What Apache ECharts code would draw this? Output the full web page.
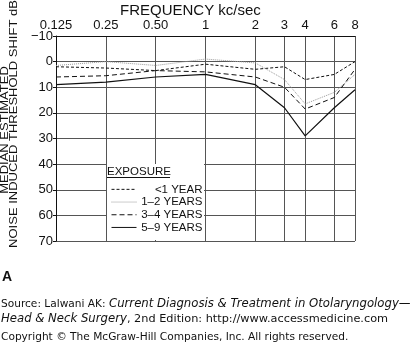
<!DOCTYPE html>
<html>
<head>
<meta charset="utf-8">
<style>
  html, body { margin: 0; padding: 0; background: #fff; }
  #chart { width: 412px; height: 342px; }
</style>
<script src="https://cdn.jsdelivr.net/npm/echarts@6/dist/echarts.min.js"></script>
</head>
<body>
<div id="chart"></div>
<script>
// Frequencies (kc/sec) of the audiogram columns
const frequencies = [0.125, 0.25, 0.5, 1, 2, 3, 4, 6, 8];
const freqLabels = ['0.125', '0.25', '0.50', '1', '2', '3', '4', '6', '8'];
// Median estimated noise-induced threshold shift (dB) by exposure duration
const lessThan1Year = [2, 2.5, 3.5, 1, 3, 2, 7, 5, 0];
const years1to2 = [1.5, 0, 1.5, -1, 0.5, 7, 16.5, 12, 5];
const years3to4 = [6, 5.5, 3.5, 4, 6, 10, 18.5, 14, 3];
const years5to9 = [9, 8, 6, 5, 9, 18, 29, 18, 11];
const seriesNames = ['<1 YEAR', '1\u20132 YEARS', '3\u20134 YEARS', '5\u20139 YEARS'];

const FONT = '"Liberation Sans", Arial, sans-serif';
const NOTE_FONT = '"DejaVu Sans", Verdana, sans-serif';

function pairs(vals) {
  return frequencies.map((f, i) => [f, vals[i]]);
}

const chart = echarts.init(document.getElementById('chart'), null, { renderer: 'canvas' });

const lineStyles = [
  { color: '#111', width: 1, type: [3, 2] },
  { color: '#999', width: 1, type: [1, 1] },
  { color: '#111', width: 1, type: [5, 3] },
  { color: '#111', width: 1.2, type: 'solid' }
];
const seriesData = [lessThan1Year, years1to2, years3to4, years5to9];

chart.setOption({
  animation: false,
  backgroundColor: '#fff',
  title: {
    text: 'FREQUENCY kc/sec',
    left: 115, top: -2,
    textStyle: { fontFamily: FONT, fontSize: 15, fontWeight: 'normal', color: '#111' }
  },
  grid: { left: 56, right: 57, top: 36, bottom: 101 },
  xAxis: {
    type: 'log',
    logBase: 2,
    min: 0.125,
    max: 8,
    position: 'top',
    axisLine: { show: true, onZero: false, lineStyle: { color: '#111', width: 1 } },
    axisTick: { show: false, customValues: frequencies },
    axisLabel: {
      customValues: frequencies,
      formatter: v => freqLabels[frequencies.indexOf(v)] ?? '',
      fontFamily: FONT, fontSize: 13, color: '#111', margin: 4
    },
    splitLine: { show: true, lineStyle: { color: '#555', width: 1 } }
  },
  yAxis: {
    type: 'value',
    inverse: true,
    min: -10,
    max: 70,
    interval: 10,
    axisLine: { show: true, lineStyle: { color: '#111', width: 1 } },
    axisTick: { show: true, length: 3, lineStyle: { color: '#111' } },
    axisLabel: {
      formatter: v => (v < 0 ? '\u2212' + Math.abs(v) : String(v)),
      fontFamily: FONT, fontSize: 13, color: '#111', margin: 3
    },
    splitLine: { show: true, lineStyle: { color: '#555', width: 1 } }
  },
  legend: {
    orient: 'vertical',
    left: 111, top: 183,
    padding: 0,
    itemWidth: 25, itemHeight: 8, itemGap: 0,
    z: 20,
    data: seriesNames,
    itemStyle: { opacity: 0 },
    lineStyle: { width: 1 },
    formatter: name => '{t|' + name + '}',
    textStyle: {
      fontFamily: FONT, fontSize: 11.5, color: '#111',
      lineHeight: 12.7,
      rich: {
        t: { width: 61, align: 'right', fontFamily: FONT, fontSize: 11.5, color: '#111', lineHeight: 12.7 }
      }
    }
  },
  graphic: [
    {
      type: 'rect', z: 3,
      shape: { x: 107, y: 164, width: 97, height: 76 },
      style: { fill: '#fff' }
    },
    {
      type: 'text', z: 11, x: 107, y: 171.5,
      style: { text: 'EXPOSURE', font: '11.5px ' + FONT, fill: '#111', verticalAlign: 'middle' }
    },
    {
      type: 'line', z: 11,
      shape: { x1: 107, y1: 177.5, x2: 170, y2: 177.5 },
      style: { stroke: '#111', lineWidth: 1 }
    },
    {
      type: 'text', z: 11, x: 5.5, y: 130, rotation: Math.PI / 2, scaleY: 0.82,
      style: {
        text: 'MEDIAN ESTIMATED', font: '13px ' + FONT, fill: '#111',
        align: 'center', verticalAlign: 'middle'
      }
    },
    {
      type: 'text', z: 11, x: 14.5, y: 124, rotation: Math.PI / 2, scaleY: 0.82,
      style: {
        text: 'NOISE INDUCED THRESHOLD SHIFT dB', font: '13px ' + FONT, fill: '#111',
        align: 'center', verticalAlign: 'middle'
      }
    },
    {
      type: 'text', x: 2, y: 277,
      style: { text: 'A', font: 'bold 14px ' + FONT, fill: '#111', verticalAlign: 'middle' }
    },
    {
      type: 'text', x: 1, y: 304,
      style: {
        text: 'Source: Lalwani AK: {i|Current Diagnosis & Treatment in Otolaryngology\u2014}',
        font: '10.6px ' + NOTE_FONT, fill: '#111', verticalAlign: 'middle',
        rich: { i: { font: 'italic 11.7px ' + NOTE_FONT } }
      }
    },
    {
      type: 'text', x: 1, y: 319,
      style: {
        text: '{i|Head & Neck Surgery}, 2nd Edition: http://www.accessmedicine.com',
        font: '11.3px ' + NOTE_FONT, fill: '#111', verticalAlign: 'middle',
        rich: { i: { font: 'italic 11.7px ' + NOTE_FONT } }
      }
    },
    {
      type: 'text', x: 1, y: 337,
      style: {
        text: 'Copyright \u00a9 The McGraw-Hill Companies, Inc. All rights reserved.',
        font: '10.6px ' + NOTE_FONT, fill: '#111', verticalAlign: 'middle'
      }
    }
  ],
  series: seriesNames.map((name, i) => ({
    name,
    type: 'line',
    data: pairs(seriesData[i]),
    showSymbol: false,
    symbol: 'none',
    z: 5,
    lineStyle: lineStyles[i],
    itemStyle: { color: lineStyles[i].color }
  }))
});
</script>
</body>
</html>
